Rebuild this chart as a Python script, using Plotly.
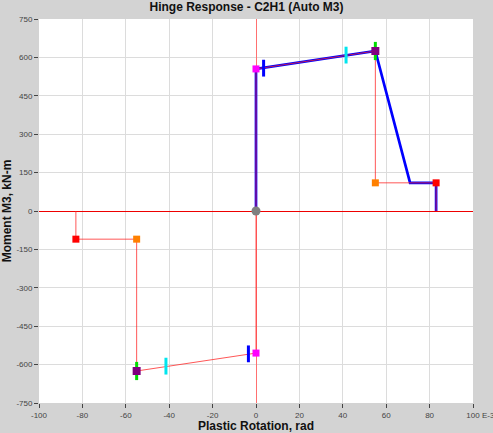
import plotly.graph_objects as go

# Backbone curve (thin red)
backbone_x = [-83, -83, -55, -55, 0, 0, 0, 55, 55, 83, 83]
backbone_y = [0, -110, -110, -625, -555, 0, 555, 625, 110, 110, 0]

# Response path (thick blue)
resp_x = [0, 0, 55, 71, 83, 83]
resp_y = [0, 555, 625, 110, 110, 0]

# Key points
origin_x, origin_y = [0], [0]
yield_x, yield_y = [0, 0], [555, -555]
io_x, io_y = [3.5, -3.5], [558, -558]
ls_x, ls_y = [41.5, -41.5], [609, -606]
cp_x, cp_y = [55, -55], [625, -625]
peak_x, peak_y = [55, -55], [625, -625]
drop_x, drop_y = [55, -55], [110, -110]
end_x, end_y = [83, -83], [110, -110]

x_ticks = [-100, -80, -60, -40, -20, 0, 20, 40, 60, 80, 100]
y_ticks = [-750, -600, -450, -300, -150, 0, 150, 300, 450, 600, 750]

fig = go.Figure()
fig.add_trace(go.Scatter(x=resp_x, y=resp_y, mode="lines",
                         line=dict(color="#0000ff", width=2.7), hoverinfo="skip"))
fig.add_trace(go.Scatter(x=backbone_x, y=backbone_y, mode="lines",
                         line=dict(color="#ff2020", width=1), opacity=0.75, hoverinfo="skip"))

def bar(xs, ys, color, size=12):
    fig.add_trace(go.Scatter(x=xs, y=ys, mode="markers",
                             marker=dict(symbol="line-ns", size=size,
                                         line=dict(color=color, width=3))))

def sq(xs, ys, color, size=7, symbol="square"):
    fig.add_trace(go.Scatter(x=xs, y=ys, mode="markers",
                             marker=dict(symbol=symbol, size=size, color=color,
                                         line=dict(width=0))))

sq(origin_x, origin_y, "#808080", size=9, symbol="circle")
bar(cp_x, cp_y, "#00dd00", size=13)
sq(peak_x, peak_y, "#800080", size=8)
sq(yield_x, yield_y, "#ff00ff", size=7)
bar(io_x, io_y, "#0000ff", size=12)
bar(ls_x, ls_y, "#00e5ee", size=12)
sq(drop_x, drop_y, "#ff8000", size=7)
sq(end_x, end_y, "#ff0000", size=7)

tick_font = dict(family="Liberation Sans, Arial", size=8, color="#444444")
fig.update_layout(
    width=493, height=433,
    paper_bgcolor="#d3d3d3", plot_bgcolor="#ffffff",
    margin=dict(l=39, r=20, t=19, b=30, autoexpand=False),
    showlegend=False,
    title=dict(text="<b>Hinge Response - C2H1 (Auto M3)</b>", x=0.5, xanchor="center",
               y=0.993, yanchor="top",
               font=dict(family="Liberation Sans, Arial", size=12, color="#111111")),
    font=dict(family="Liberation Sans, Arial"),
)
fig.update_xaxes(range=[-100, 100], tickvals=x_ticks,
                 ticktext=[str(v) for v in x_ticks], automargin=False,
                 ticks="outside", ticklen=4, tickcolor="#444444", tickfont=tick_font,
                 showgrid=True, gridcolor="#dcdcdc", gridwidth=1,
                 zeroline=True, zerolinecolor="#ff7070", zerolinewidth=1,
                 showline=False,
                 title=dict(text="<b>Plastic Rotation, rad</b>", standoff=2,
                            font=dict(size=12, color="#111111")))
fig.update_yaxes(range=[-750, 750], tickvals=y_ticks,
                 ticktext=[str(v) for v in y_ticks], automargin=False,
                 ticks="outside", ticklen=4, tickcolor="#444444", tickfont=tick_font,
                 showgrid=True, gridcolor="#dcdcdc", gridwidth=1,
                 zeroline=True, zerolinecolor="#ee0000", zerolinewidth=1.2,
                 showline=False,
                 title=dict(text="<b>Moment M3, kN-m</b>", standoff=2,
                            font=dict(size=12, color="#111111")))
fig.add_annotation(text="E-3", xref="paper", yref="paper", x=1.0, y=0,
                   xshift=7, yshift=-12, showarrow=False, xanchor="left", yanchor="middle",
                   font=tick_font)
fig.write_html("out.html", config={"displayModeBar": False},
               post_script="document.body.style.margin='0';document.body.style.background='#d3d3d3';document.body.style.overflow='hidden';")
